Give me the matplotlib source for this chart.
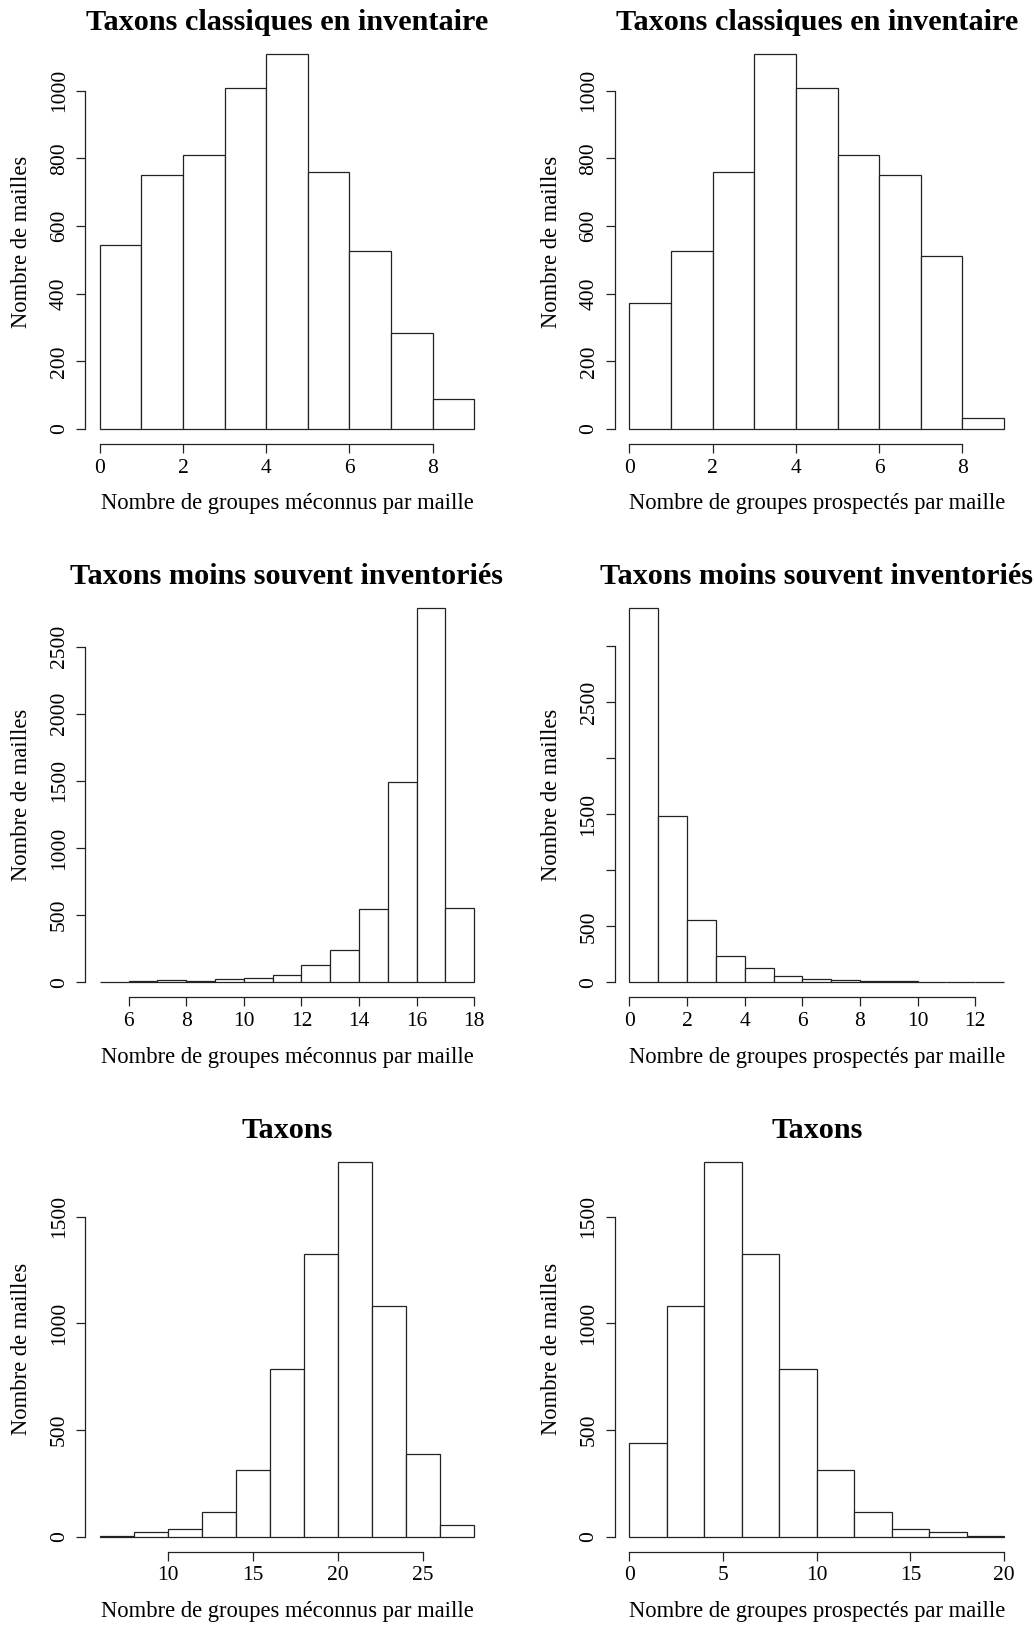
import numpy as np
import matplotlib
matplotlib.use('Agg')
import matplotlib.pyplot as plt

plt.rcParams['font.family'] = ['Liberation Serif', 'DejaVu Serif']

bords_classiques = [0, 1, 2, 3, 4, 5, 6, 7, 8, 9]
classiques_meconnus = [544, 750, 809, 1008, 1109, 759, 527, 285, 88]
classiques_prospectes = [374, 527, 759, 1109, 1008, 809, 750, 513, 32]

bords_moins_meconnus = [5, 6, 7, 8, 9, 10, 11, 12, 13, 14, 15, 16, 17, 18]
moins_meconnus = [5, 7, 15, 7, 22, 35, 52, 127, 238, 549, 1490, 2788, 553]
bords_moins_prospectes = [0, 1, 2, 3, 4, 5, 6, 7, 8, 9, 10, 11, 12, 13]
moins_prospectes = [3342, 1485, 554, 235, 125, 54, 33, 24, 9, 15, 6, 0, 0]

bords_taxons_meconnus = [6, 8, 10, 12, 14, 16, 18, 20, 22, 24, 26, 28]
taxons_meconnus = [3, 20, 34, 114, 313, 785, 1326, 1758, 1079, 386, 56]
bords_taxons_prospectes = [0, 2, 4, 6, 8, 10, 12, 14, 16, 18, 20]
taxons_prospectes = [439, 1079, 1758, 1326, 785, 313, 114, 34, 20, 3]

## graduations
xt_classiques = [0, 2, 4, 6, 8]
yt_classiques = [0, 200, 400, 600, 800, 1000]
xt_moins_meconnus = [6, 8, 10, 12, 14, 16, 18]
yt_moins_meconnus = [0, 500, 1000, 1500, 2000, 2500]
xt_moins_prospectes = [0, 2, 4, 6, 8, 10, 12]
yt_moins_prospectes = [0, 500, 1000, 1500, 2000, 2500, 3000]
yl_moins_prospectes = ['0', '500', '', '1500', '', '2500', '']
xt_taxons_meconnus = [10, 15, 20, 25]
xt_taxons_prospectes = [0, 5, 10, 15, 20]
yt_taxons = [0, 500, 1000, 1500]

titres = ['Taxons classiques en inventaire', 'Taxons moins souvent inventoriés', 'Taxons']
lab_meconnus = 'Nombre de groupes méconnus par maille'
lab_prospectes = 'Nombre de groupes prospectés par maille'
lab_y = 'Nombre de mailles'

W, H = 1034, 1627
fig = plt.figure(figsize=(W / 100, H / 100), dpi=100)
fig.patch.set_facecolor('white')

cols = [(84.7, 489.3), (614.5, 1019.0)]   ## position des zones de tracé en pixels
rows = [(39.0, 444.0), (593.0, 997.3), (1146.6, 1551.5)]
trait = '#222222'


def histo(col, row, bords, effectifs, xticks, yticks, titre, xlabel, ylabels=None):
    x0, x1 = cols[col]
    y0, y1 = rows[row]
    ax = fig.add_axes([x0 / W, 1 - y1 / H, (x1 - x0) / W, (y1 - y0) / H])
    bords = np.array(bords, dtype=float)
    ax.bar(bords[:-1], effectifs, width=np.diff(bords), align='edge',
           color='white', edgecolor=trait, linewidth=0.9)

    # étendue à la manière de R (4 %)
    dx = 0.04 * (bords[-1] - bords[0])
    ax.set_xlim(bords[0] - dx, bords[-1] + dx)
    ymax = max(effectifs)
    ax.set_ylim(-0.04 * ymax, 1.04 * ymax)

    for s in ['top', 'right']:
        ax.spines[s].set_visible(False)
    for s in ['left', 'bottom']:
        ax.spines[s].set_color(trait)
        ax.spines[s].set_linewidth(0.9)
    ax.spines['bottom'].set_bounds(xticks[0], xticks[-1])
    ax.spines['left'].set_bounds(yticks[0], yticks[-1])

    ax.set_xticks(xticks)
    if ylabels is None:
        ylabels = [str(v) for v in yticks]
    ax.set_yticks(yticks, labels=ylabels)
    ax.tick_params(direction='out', length=6.5, width=0.9, color=trait, labelsize=15.5)
    ax.tick_params(axis='x', pad=4)
    ax.tick_params(axis='y', pad=5)
    for t in ax.get_yticklabels():
        t.set_rotation(90)
        t.set_va('center')

    ax.set_title(titre, fontweight='bold', fontsize=21.8, pad=6.5)
    fig.text(((x0 + x1) / 2) / W, 1 - (y1 + 60) / H, xlabel, fontsize=16.3,
             ha='center', va='center')
    fig.text((x0 - 63) / W, 1 - ((y0 + y1) / 2) / H, lab_y, fontsize=16.3,
             ha='center', va='center', rotation=90)
    return ax


histo(0, 0, bords_classiques, classiques_meconnus, xt_classiques, yt_classiques, titres[0], lab_meconnus)
histo(1, 0, bords_classiques, classiques_prospectes, xt_classiques, yt_classiques, titres[0], lab_prospectes)
histo(0, 1, bords_moins_meconnus, moins_meconnus, xt_moins_meconnus, yt_moins_meconnus, titres[1], lab_meconnus)
histo(1, 1, bords_moins_prospectes, moins_prospectes, xt_moins_prospectes, yt_moins_prospectes, titres[1],
      lab_prospectes, yl_moins_prospectes)
histo(0, 2, bords_taxons_meconnus, taxons_meconnus, xt_taxons_meconnus, yt_taxons, titres[2], lab_meconnus)
histo(1, 2, bords_taxons_prospectes, taxons_prospectes, xt_taxons_prospectes, yt_taxons, titres[2], lab_prospectes)

fig.savefig('out.png', dpi=100, facecolor='white')
